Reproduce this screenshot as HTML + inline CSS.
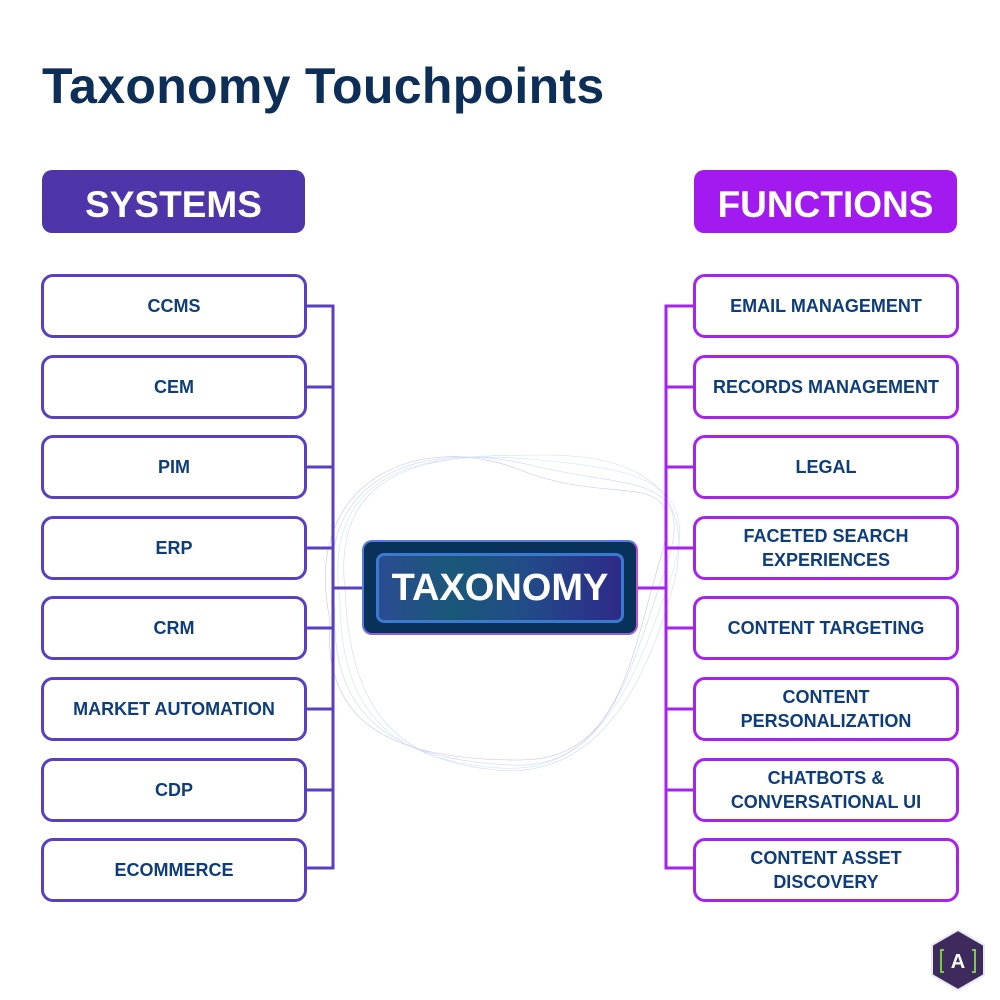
<!DOCTYPE html>
<html><head><style>
body{margin:0;width:1000px;height:1000px;background:#fff;position:relative;overflow:hidden;font-family:"Liberation Sans",sans-serif;}
.t{position:absolute;left:42px;top:57px;font-size:50px;font-weight:bold;color:#0d2f57;letter-spacing:0.3px;}
.h{position:absolute;top:170px;width:263px;height:63px;box-sizing:border-box;padding-top:6px;border-radius:10px;color:#fff;font-weight:bold;font-size:37px;display:flex;align-items:center;justify-content:center;}
.b{position:absolute;width:260px;height:58px;border:3px solid #5a3fbf;border-radius:12px;background:#fff;display:flex;align-items:center;justify-content:center;text-align:center;color:#0e3d7a;font-weight:bold;font-size:18px;line-height:24px;}
.r{border-color:#a622ee;}
</style></head><body>
<div class="t">Taxonomy Touchpoints</div>
<div class="h" style="left:42px;background:#4e36aa">SYSTEMS</div>
<div class="h" style="left:694px;background:#a31af0">FUNCTIONS</div>
<svg width="1000" height="1000" style="position:absolute;left:0;top:0">
<g fill="none" stroke-width="0.6" opacity="0.6">
<path d="M330 620 C300 480 420 430 520 470 S690 460 660 560 S620 760 520 760 S320 740 330 620" stroke="#9a9cf0"/>
<path d="M335 610 C310 470 430 440 530 465 S700 470 665 570 S610 770 510 765 S330 730 335 610" stroke="#a8b8f4"/>
<path d="M340 600 C320 460 440 450 540 460 S705 480 670 580 S600 775 500 768 S340 720 340 600" stroke="#a8d4f8"/>
<path d="M345 590 C330 455 450 455 545 455 S700 490 672 590 S595 780 495 770 S350 710 345 590" stroke="#b0c0f4"/>
</g>
<g stroke="#5a3fbf" stroke-width="3" fill="none">
<path d="M306 306H333V868H306"/>
<path d="M306 387H333M306 467H333M306 548H333M306 628H333M306 709H333M306 790H333M333 588H363"/>
</g>
<g stroke="#a622ee" stroke-width="3" fill="none">
<path d="M694 306H666V868H694"/>
<path d="M694 387H666M694 467H666M694 548H666M694 628H666M694 709H666M694 790H666M666 588H637"/>
</g>
<polygon points="958,930 984,945 984,975 958,990 932,975 932,945" fill="#3f2a5e" stroke="#e8e8f0" stroke-width="2"/>
<text x="958" y="968" fill="#fff" font-size="20" font-weight="bold" text-anchor="middle" font-family="Liberation Sans">A</text>
<path d="M944 950h-3v22h3M972 950h3v22h-3" stroke="#7ac943" stroke-width="2" fill="none"/>
</svg>
<div style="position:absolute;left:362px;top:540px;width:272px;height:91px;background:#08325a;border-radius:10px;border:2px solid #5a7ce0;border-right-color:#c050d0;border-bottom-color:#9060d0"></div>
<div style="position:absolute;left:376px;top:553px;width:242px;height:64px;border:3px solid #3a7ad0;border-radius:8px;background:linear-gradient(90deg,#2a4c92,#1a5878 30%,#214c88 60%,#2e2a88);color:#fff;font-weight:bold;font-size:38px;display:flex;align-items:center;justify-content:center">TAXONOMY</div>
<div class="b" style="left:41px;top:274px">CCMS</div>
<div class="b" style="left:41px;top:355px">CEM</div>
<div class="b" style="left:41px;top:435px">PIM</div>
<div class="b" style="left:41px;top:516px">ERP</div>
<div class="b" style="left:41px;top:596px">CRM</div>
<div class="b" style="left:41px;top:677px">MARKET AUTOMATION</div>
<div class="b" style="left:41px;top:758px">CDP</div>
<div class="b" style="left:41px;top:838px">ECOMMERCE</div>
<div class="b r" style="left:693px;top:274px">EMAIL MANAGEMENT</div>
<div class="b r" style="left:693px;top:355px">RECORDS MANAGEMENT</div>
<div class="b r" style="left:693px;top:435px">LEGAL</div>
<div class="b r" style="left:693px;top:516px">FACETED SEARCH<br>EXPERIENCES</div>
<div class="b r" style="left:693px;top:596px">CONTENT TARGETING</div>
<div class="b r" style="left:693px;top:677px">CONTENT<br>PERSONALIZATION</div>
<div class="b r" style="left:693px;top:758px">CHATBOTS &amp;<br>CONVERSATIONAL UI</div>
<div class="b r" style="left:693px;top:838px">CONTENT ASSET<br>DISCOVERY</div>
</body></html>
